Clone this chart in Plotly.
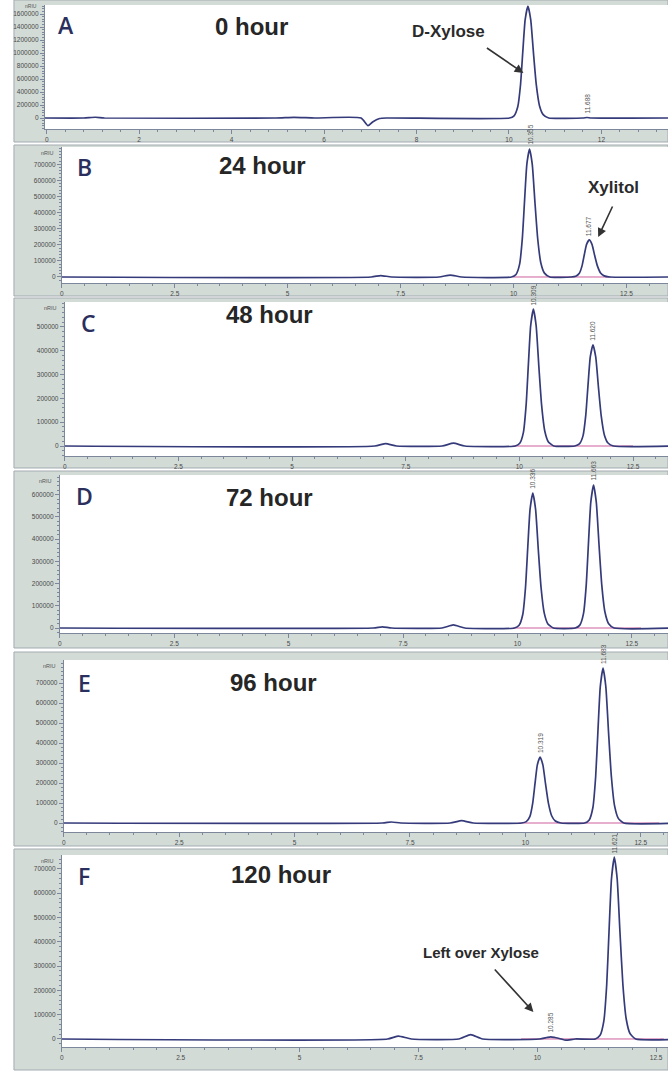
import plotly.graph_objects as go

W, H = 668, 1076

# ---- chromatogram traces: retention time (min) vs detector signal (nRIU) ----
t_0h = [-0.05, 0.80, 1.05, 1.25, 4.95, 5.35, 5.80, 6.80, 6.95, 7.05, 7.20, 7.35,
        10.01, 10.11, 10.19, 10.25, 10.30, 10.35, 10.41, 10.47, 10.53, 10.59, 10.66, 10.74, 10.86,
        11.60, 11.688, 11.78, 13.45]
s_0h = [0, 0, 12000, 0, 0, 10000, 0, 0, -118000, -60000, -8000, 0,
        0, 34000, 172000, 516000, 1032000, 1514000, 1720000, 1514000, 998000, 516000, 189000, 52000, 0,
        0, 8000, 0, 0]

t_24h = [0, 6.85, 7.06, 7.30, 8.35, 8.60, 8.85,
         9.955, 10.055, 10.135, 10.195, 10.245, 10.295, 10.355, 10.415, 10.475, 10.535, 10.605, 10.685, 10.805,
         11.277, 11.377, 11.457, 11.517, 11.567, 11.617, 11.677, 11.737, 11.797, 11.857, 11.927, 12.007, 12.127,
         13.45]
s_24h = [0, 0, 9000, 0, 0, 12000, 0,
         0, 16000, 80000, 240000, 477000, 700000, 795000, 700000, 461000, 239000, 87000, 24000, 0,
         0, 4600, 23000, 69000, 138000, 202400, 230000, 202400, 133400, 69000, 25300, 6900, 0,
         0]

t_48h = [0, 6.82, 7.06, 7.30, 8.30, 8.55, 8.80,
         9.909, 10.009, 10.089, 10.149, 10.199, 10.249, 10.309, 10.369, 10.429, 10.489, 10.559, 10.639, 10.759,
         11.220, 11.320, 11.400, 11.460, 11.510, 11.560, 11.620, 11.680, 11.740, 11.800, 11.870, 11.950, 12.070,
         13.45]
s_48h = [0, 0, 10000, 0, 0, 12000, 0,
         0, 11500, 57500, 172500, 345000, 506000, 575000, 506000, 333500, 172500, 63250, 17250, 0,
         0, 8500, 42500, 127500, 255000, 374000, 425000, 374000, 246500, 127500, 46750, 12750, 0,
         0]

t_72h = [0, 6.85, 7.05, 7.25, 8.35, 8.60, 8.85,
         9.936, 10.036, 10.116, 10.176, 10.226, 10.276, 10.336, 10.396, 10.456, 10.516, 10.586, 10.666, 10.786,
         11.263, 11.363, 11.443, 11.503, 11.553, 11.603, 11.663, 11.723, 11.783, 11.843, 11.913, 11.993, 12.113,
         13.45]
s_72h = [0, 0, 5000, 0, 0, 14000, 0,
         0, 12160, 60800, 182400, 364800, 535040, 608000, 535040, 352640, 182400, 66880, 18240, 0,
         0, 12880, 64400, 193200, 386400, 566720, 644000, 566720, 373520, 193200, 70840, 19320, 0,
         0]

t_96h = [0, 6.90, 7.10, 7.30, 8.37, 8.62, 8.87,
         9.919, 10.019, 10.099, 10.159, 10.209, 10.259, 10.319, 10.379, 10.439, 10.499, 10.569, 10.649, 10.769,
         11.283, 11.383, 11.463, 11.523, 11.573, 11.623, 11.683, 11.743, 11.803, 11.863, 11.933, 12.013, 12.133,
         13.45]
s_96h = [0, 0, 5000, 0, 0, 12000, 0,
         0, 6600, 33000, 99000, 198000, 290400, 330000, 290400, 191400, 99000, 36300, 9900, 0,
         0, 15500, 77500, 232500, 465000, 682000, 775000, 682000, 449500, 232500, 85250, 23250, 0,
         0]

t_120h = [0, 6.85, 7.08, 7.35, 8.35, 8.60, 8.85,
          10.05, 10.20, 10.285, 10.37, 10.50, 10.60, 10.80,
          11.221, 11.321, 11.401, 11.461, 11.511, 11.561, 11.621, 11.681, 11.741, 11.801, 11.871, 11.951, 12.071,
          13.2]
s_120h = [0, 0, 12000, 0, 0, 18000, 0,
          0, 6000, 9000, 6000, 0, -5000, 0,
          0, 14960, 74800, 224400, 448800, 658240, 748000, 658240, 433840, 224400, 82280, 22440, 0,
          0]

# retention times printed above the integrated peaks
rt_0h = [11.688]
rt_24h = [10.355, 11.677]
rt_48h = [10.309, 11.620]
rt_72h = [10.336, 11.663]
rt_96h = [10.319, 11.683]
rt_120h = [10.285, 11.621]

# integration baseline windows (min)
base_24h = [9.98, 12.15]
base_48h = [9.85, 12.50]
base_72h = [9.90, 12.70]
base_96h = [9.85, 12.90]
base_120h = [9.66, 12.66]

panel_letters = ["A", "B", "C", "D", "E", "F"]
panel_titles = ["0 hour", "24 hour", "48 hour", "72 hour", "96 hour", "120 hour"]

y_ticks_0h = [0, 200000, 400000, 600000, 800000, 1000000, 1200000, 1400000, 1600000]
y_ticks_24h = [0, 100000, 200000, 300000, 400000, 500000, 600000, 700000]
y_ticks_48h = [0, 100000, 200000, 300000, 400000, 500000]
y_ticks_72h = [0, 100000, 200000, 300000, 400000, 500000, 600000]
y_ticks_96h = [0, 100000, 200000, 300000, 400000, 500000, 600000, 700000]
y_ticks_120h = [0, 100000, 200000, 300000, 400000, 500000, 600000, 700000]

x_ticks_0h = [0, 2, 4, 6, 8, 10, 12]
x_ticks_std = [0, 2.5, 5, 7.5, 10, 12.5]

# ---- page geometry (pixels) for each printout panel ----
# frame top, frame bottom, plot left, plot top, plot bottom
panels = [
    dict(ft=0, fb=142, pl=43, pt=5, pb=129, xr=[-0.04, 13.44], yr=[-169000, 1738500]),
    dict(ft=145, fb=296, pl=60, pt=147, pb=283, xr=[0, 13.42], yr=[-37300, 807400]),
    dict(ft=298, fb=468, pl=63, pt=302, pb=456, xr=[0, 13.27], yr=[-42000, 605000]),
    dict(ft=471, fb=648, pl=58, pt=475, pb=633, xr=[0, 13.29], yr=[-22500, 689000]),
    dict(ft=652, fb=846, pl=62, pt=660, pb=832, xr=[0, 13.09], yr=[-45000, 815000]),
    dict(ft=849, fb=1070, pl=60, pt=855, pb=1047, xr=[0, 12.75], yr=[-33000, 757000]),
]

traces_t = [t_0h, t_24h, t_48h, t_72h, t_96h, t_120h]
traces_s = [s_0h, s_24h, s_48h, s_72h, s_96h, s_120h]
rts = [rt_0h, rt_24h, rt_48h, rt_72h, rt_96h, rt_120h]
bases = [None, base_24h, base_48h, base_72h, base_96h, base_120h]
yticks = [y_ticks_0h, y_ticks_24h, y_ticks_48h, y_ticks_72h, y_ticks_96h, y_ticks_120h]


def py(y):
    return 1 - y / H


def pxx(x):
    return x / W


fig = go.Figure()
layout = dict(
    width=W, height=H, autosize=False,
    margin=dict(l=0, r=0, t=0, b=0),
    paper_bgcolor="white", plot_bgcolor="rgba(0,0,0,0)",
    showlegend=False,
)
shapes = []
annotations = []

TRACE_COL = "#353b7a"
AXIS_COL = "#7d879c"
TICK_FONT = dict(family="Liberation Sans, Arial, sans-serif", size=6.5, color="#4a4a4a")

for i, p in enumerate(panels):
    n = "" if i == 0 else str(i + 1)
    xa, ya = "x" + n, "y" + n

    # printout frame: tinted gutter and axis strip, white plotting field
    shapes.append(dict(type="rect", xref="paper", yref="paper", layer="below",
                       x0=pxx(12), x1=1.0, y0=py(p["fb"]), y1=py(p["ft"]),
                       fillcolor="#d2dbd6", line=dict(color="#a3abb0", width=1)))
    shapes.append(dict(type="rect", xref="paper", yref="paper", layer="below",
                       x0=pxx(p["pl"]), x1=1.0, y0=py(p["pb"]), y1=py(p["pt"]),
                       fillcolor="white", line=dict(width=0)))

    xt = x_ticks_0h if i == 0 else x_ticks_std
    layout["xaxis" + n] = dict(
        domain=[pxx(p["pl"]), 1.0], anchor=ya, range=p["xr"],
        showgrid=False, zeroline=False, showline=True, linecolor=AXIS_COL, linewidth=1,
        ticks="outside", ticklen=4, tickcolor=AXIS_COL, tickvals=xt,
        ticktext=[("%g" % v) for v in xt], tickfont=TICK_FONT,
        minor=dict(dtick=0.5 if i else 0.4, ticks="outside", ticklen=2, tickcolor=AXIS_COL),
        fixedrange=True,
    )
    yt = yticks[i]
    layout["yaxis" + n] = dict(
        domain=[py(p["pb"]), py(p["pt"])], anchor=xa, range=p["yr"],
        showgrid=False, zeroline=False, showline=True, linecolor=AXIS_COL, linewidth=1,
        ticks="outside", ticklen=4, tickcolor=AXIS_COL, tickvals=yt,
        ticktext=[str(v) for v in yt], tickfont=TICK_FONT,
        minor=dict(dtick=(yt[1] - yt[0]) / 5, ticks="outside", ticklen=2, tickcolor=AXIS_COL),
        fixedrange=True,
    )

    # integration baseline under the peaks
    if bases[i] is not None:
        fig.add_trace(go.Scatter(x=bases[i], y=[0, 0], mode="lines",
                                 line=dict(color="#cf5f9c", width=1),
                                 xaxis=xa, yaxis=ya, hoverinfo="skip"))

    # detector signal
    fig.add_trace(go.Scatter(x=traces_t[i], y=traces_s[i], mode="lines",
                             line=dict(color=TRACE_COL, width=1.7, shape="spline", smoothing=0.5),
                             xaxis=xa, yaxis=ya, hoverinfo="skip"))

    # retention-time labels above each peak apex
    for rt in rts[i]:
        k = traces_t[i].index(rt)
        annotations.append(dict(x=rt, y=traces_s[i][k], xref=xa, yref=ya,
                                text="%.3f" % rt, textangle=-90, showarrow=False,
                                yanchor="bottom", yshift=2,
                                font=dict(family="Liberation Sans, Arial", size=6.5, color="#555555")))

    # detector unit at the top of the scale
    unit_top = p["ft"] + 1 if i == 0 else p["pt"] + 1
    annotations.append(dict(x=pxx(p["pl"] - 6), y=py(unit_top), xref="paper", yref="paper",
                            text="nRIU", showarrow=False, xanchor="right", yanchor="top",
                            font=dict(family="Liberation Sans, Arial", size=5 if i == 0 else 5.5,
                                      color="#555555")))

# panel letters and sampling-time titles (pixel centres)
letter_pos = [(64, 25), (83, 167), (87, 323), (83, 496), (83, 683), (82, 876)]
title_pos = [(250, 27), (261, 165), (268, 314), (268, 497), (272, 682), (280, 874)]
for i in range(6):
    lx, ly = letter_pos[i]
    annotations.append(dict(x=pxx(lx), y=py(ly), xref="paper", yref="paper",
                            text=panel_letters[i], showarrow=False,
                            xanchor="center", yanchor="middle",
                            font=dict(family="Open Sans, Noto Sans, sans-serif", size=23,
                                      weight=600, color="#2b2f5e")))
    tx, ty = title_pos[i]
    annotations.append(dict(x=pxx(tx), y=py(ty), xref="paper", yref="paper",
                            text="<b>%s</b>" % panel_titles[i], showarrow=False,
                            xanchor="center", yanchor="middle",
                            font=dict(family="Liberation Sans, Arial, sans-serif", size=24, color="#262626")))

# compound call-outs with arrows
callouts = [
    ("D-Xylose", (448, 32), 17, (523, 73), (-38, -26)),
    ("Xylitol", (613, 187), 17, (598, 237), (15, -32)),
    ("Left over Xylose", (480, 952), 15, (533, 1012), (-40, -44)),
]
for text, (cx, cy), fs, (hx, hy), (ax, ay) in callouts:
    annotations.append(dict(x=pxx(cx), y=py(cy), xref="paper", yref="paper",
                            text="<b>%s</b>" % text, showarrow=False,
                            xanchor="center", yanchor="middle",
                            font=dict(family="Liberation Sans, Arial, sans-serif", size=fs, color="#2a2a2a")))
    annotations.append(dict(x=pxx(hx), y=py(hy), xref="paper", yref="paper",
                            text="", showarrow=True, ax=ax, ay=ay,
                            arrowhead=2, arrowsize=1.1, arrowwidth=1.6, arrowcolor="#333333"))

layout["shapes"] = shapes
layout["annotations"] = annotations
fig.update_layout(**layout)

fig.write_html("out.html")
